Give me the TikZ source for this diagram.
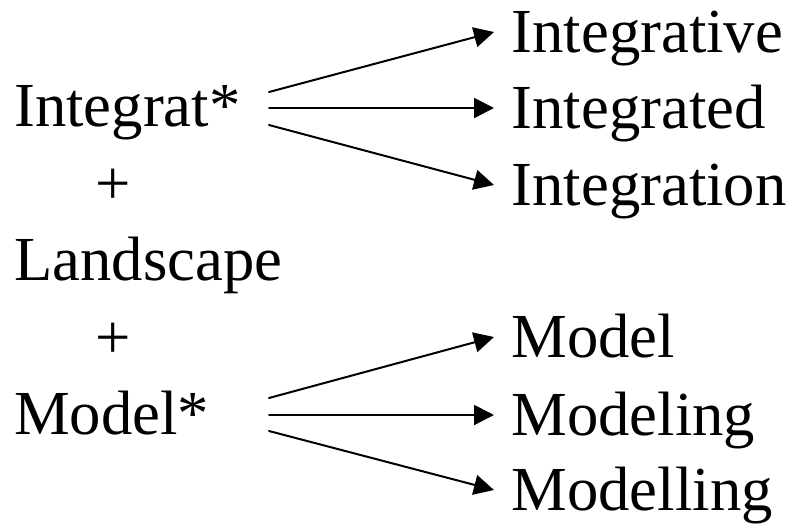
\documentclass[tikz,border=0pt]{standalone}
\usepackage{fontspec}
\setmainfont{Liberation Serif}
\usetikzlibrary{arrows.meta}
\tikzset{
  word/.style={anchor=base west,inner sep=0pt,font=\fontsize{47}{56}\selectfont},
  hit/.style={word,inner xsep=13pt,text height=30pt,text depth=0pt},
  arr/.style={line width=1.5pt,-{Triangle[length=15pt,width=15pt]}}
}
\begin{document}
\begin{tikzpicture}[x=0.75pt,y=-0.75pt,line cap=round]
  \useasboundingbox (0,0) rectangle (798,529);
  % left column
  \node[word] (intg) at (14,126) {Integrat*};
  \node[word] (plus1) at (95,204) {+};
  \node[word] (land) at (14,280) {Landscape};
  \node[word] (plus2) at (95,358) {+};
  \node[word] (modl) at (14,434) {Model*};
  % right column
  \node[hit] (intve) at (494,52) {Integrative};
  \node[hit] (inted) at (494,128) {Integrated};
  \node[hit] (inton) at (494,205) {Integration};
  \node[hit] (mod) at (494,357) {Model};
  \node[hit] (moding) at (494,435) {Modeling};
  \node[hit] (modlling) at (494,510) {Modelling};
  % arrow starts
  \coordinate (a1) at (269,92);
  \coordinate (a2) at (269,108);
  \coordinate (a3) at (269,125);
  \coordinate (b1) at (269,398);
  \coordinate (b2) at (269,415);
  \coordinate (b3) at (269,431);
  \draw[arr] (a1) -- (intve.west);
  \draw[arr] (a2) -- (inted.west);
  \draw[arr] (a3) -- (inton.west);
  \draw[arr] (b1) -- (mod.west);
  \draw[arr] (b2) -- (moding.west);
  \draw[arr] (b3) -- (modlling.west);
\end{tikzpicture}
\end{document}
